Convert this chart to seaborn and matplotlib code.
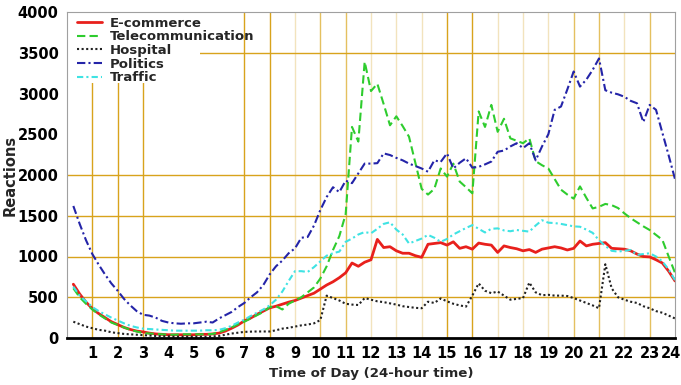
import numpy as np
import pandas as pd
import matplotlib
matplotlib.use("Agg")
import matplotlib.pyplot as plt
import matplotlib.transforms as mtransforms
from matplotlib.patches import Rectangle
import seaborn as sns

# Reactions sampled every 15 minutes over the day
hours = np.arange(1, 97) * 0.25

ecommerce = [
    660, 540, 440, 360, 300, 250, 200, 165,
    130, 105, 85, 75, 60, 50, 45, 40,
    40, 40, 40, 40, 45, 45, 50, 60,
    85, 120, 160, 210, 245, 290, 330, 370,
    390, 415, 440, 460, 490, 520, 550, 600,
    650, 690, 740, 800, 920, 880, 930, 960,
    1210, 1110, 1120, 1070, 1040, 1040, 1010, 990,
    1150, 1160, 1170, 1140, 1180, 1100, 1120, 1090,
    1165, 1150, 1140, 1050, 1130, 1110, 1095, 1070,
    1085, 1050, 1090, 1105, 1120, 1105, 1080, 1100,
    1190, 1130, 1150, 1160, 1170, 1100, 1095, 1090,
    1070, 1030, 1000, 995, 960, 920, 820, 700,
]

telecommunication = [
    610, 500, 420, 350, 290, 240, 190, 160,
    130, 100, 80, 60, 55, 50, 45, 40,
    40, 45, 45, 45, 45, 45, 50, 70,
    100, 130, 170, 200, 240, 280, 320, 380,
    390, 350, 420, 460, 500, 560, 620, 730,
    880, 1080, 1250, 1520, 2590, 2410, 3390, 3030,
    3120, 2870, 2610, 2720, 2600, 2470, 2150, 1830,
    1760, 1830, 2080, 1980, 2140, 1920, 1850, 1775,
    2780, 2590, 2860, 2530, 2690, 2450, 2420, 2390,
    2450, 2170, 2120, 2080, 1950, 1820, 1760, 1710,
    1860, 1720, 1590, 1610, 1645, 1630, 1595, 1530,
    1470, 1420, 1370, 1325, 1265, 1205, 1000, 800,
]

hospital = [
    200, 170, 140, 120, 100, 90, 70, 60,
    50, 45, 40, 35, 30, 25, 20, 20,
    15, 15, 15, 15, 15, 15, 20, 25,
    40, 55, 65, 75, 78, 80, 80, 80,
    95, 115, 125, 140, 155, 165, 180, 220,
    520, 490, 460, 420, 410, 405, 490, 470,
    450, 440, 425, 410, 390, 380, 370, 365,
    445, 430, 485, 450, 420, 400, 385, 520,
    670, 580, 550, 570, 520, 470, 480, 490,
    680, 560, 525, 530, 520, 520, 515, 490,
    460, 430, 400, 365, 905, 610, 500, 470,
    445, 430, 390, 365, 330, 310, 275, 240,
]

politics = [
    1620, 1400, 1200, 1030, 900, 780, 670, 580,
    480, 400, 330, 285, 275, 250, 210, 190,
    180, 175, 180, 180, 190, 200, 190, 240,
    280, 320, 380, 430, 500, 560, 650, 780,
    880, 950, 1040, 1100, 1230, 1240, 1380, 1570,
    1730, 1850, 1790, 1930, 1900, 2020, 2140, 2140,
    2145, 2265, 2245, 2210, 2180, 2140, 2110, 2080,
    2040, 2180, 2160, 2265, 2080, 2150, 2205, 2090,
    2100, 2130, 2165, 2285, 2300, 2350, 2390, 2330,
    2390, 2180, 2350, 2500, 2800, 2840, 3050, 3270,
    3085, 3170, 3290, 3430, 3040, 3010, 2990, 2960,
    2910, 2880, 2650, 2860, 2800, 2520, 2240, 1950,
]

traffic = [
    630, 520, 450, 380, 330, 290, 250, 215,
    180, 150, 130, 115, 110, 105, 100, 95,
    90, 90, 90, 90, 90, 95, 95, 100,
    120, 150, 190, 225, 270, 310, 350, 400,
    470, 570, 700, 820, 820, 810, 870, 940,
    1010, 1040, 1060, 1180, 1220, 1270, 1300, 1285,
    1340, 1400, 1420, 1330, 1270, 1160, 1190, 1220,
    1265, 1230, 1180, 1215, 1270, 1310, 1350, 1385,
    1340, 1295, 1340, 1345, 1320, 1310, 1325, 1315,
    1305, 1380, 1445, 1415, 1410, 1400, 1385, 1370,
    1365, 1330, 1290, 1200, 1130, 1070, 1060, 1070,
    1080, 1020, 1030, 1040, 1000, 940, 840, 710,
]

series_names = ["E-commerce", "Telecommunication", "Hospital", "Politics", "Traffic"]
x_ticks = list(range(1, 25))
y_ticks = list(range(0, 4001, 500))

df = pd.DataFrame({
    "hour": hours,
    "E-commerce": ecommerce,
    "Telecommunication": telecommunication,
    "Hospital": hospital,
    "Politics": politics,
    "Traffic": traffic,
})

sns.set_theme(style="white")
plt.rcParams["font.family"] = ["DejaVu Sans"]
plt.rcParams["font.weight"] = "bold"

fig = plt.figure(figsize=(6.81, 3.85), dpi=100)
ax = fig.add_axes([67 / 681, 47 / 385, 608 / 681, 326 / 385])

# background grid in gold tones of varying strength
gold_strong = "#d8a31c"
gold_medium = "#e4c060"
gold_pale = "#f2e3bd"
strong = {1, 2, 3, 7, 8, 15, 16}
medium = {10, 11, 20, 21, 23}
pale = {9, 12, 13, 14, 17, 18, 19, 22}
for h in range(1, 24):
    if h in strong:
        ax.axvline(h, color=gold_strong, lw=1.0, zorder=0)
    elif h in medium:
        ax.axvline(h, color=gold_medium, lw=1.0, zorder=0)
    elif h in pale:
        ax.axvline(h, color=gold_pale, lw=1.0, zorder=0)
for yv in (500, 1000, 1500, 2000, 3500):
    ax.axhline(yv, color=gold_strong, lw=1.0, zorder=0)

# white key area behind the legend entries
ax.add_patch(Rectangle((0, 0.782), 0.219, 0.218, transform=ax.transAxes,
                       facecolor="white", edgecolor="none", zorder=0.5))

styles = {
    "E-commerce": dict(color="#e8201c", lw=2.0, dashes=None),
    "Telecommunication": dict(color="#2ecc2e", lw=1.5, dashes=(4, 2)),
    "Hospital": dict(color="#222222", lw=1.5, dashes=(1, 1.2)),
    "Politics": dict(color="#2424a8", lw=1.5, dashes=(4, 1.5, 1, 1.5)),
    "Traffic": dict(color="#3fe3e3", lw=1.5, dashes=(3, 1.5, 1, 1.5)),
}

for name in series_names:
    st = styles[name]
    sns.lineplot(data=df, x="hour", y=name, ax=ax, label=name,
                 color=st["color"], lw=st["lw"])
    ln = ax.get_lines()[-1]
    ln.set_zorder(2)
    if st["dashes"] is not None:
        ln.set_dashes(st["dashes"])

ax.set_xlim(0, 24)
ax.set_ylim(0, 4000)
ax.set_xticks(x_ticks)
ax.set_yticks(y_ticks)
ax.set_xticklabels([str(t) for t in x_ticks], fontsize=10.5, fontweight="bold")
ax.set_yticklabels([str(t) for t in y_ticks], fontsize=10.5, fontweight="bold")
ax.tick_params(axis="both", length=0, pad=6, colors="black")

# keep the last hour label inside the canvas
last = ax.get_xticklabels()[-1]
last.set_transform(last.get_transform() +
                   mtransforms.ScaledTranslation(-0.04, 0, fig.dpi_scale_trans))

for side in ("left", "top", "right"):
    ax.spines[side].set_color("#a0a0a0")
    ax.spines[side].set_linewidth(0.8)
ax.spines["bottom"].set_color("black")
ax.spines["bottom"].set_linewidth(2.0)

ax.set_xlabel("Time of Day (24-hour time)", fontsize=9.6, fontweight="bold")
ax.set_ylabel("Reactions", fontsize=10.5, fontweight="bold")
ax.xaxis.set_label_coords(0.5, -0.09)
ax.yaxis.set_label_coords(-0.081, 0.5)

handles, labels = ax.get_legend_handles_labels()
leg = ax.legend(handles, labels, loc="upper left", bbox_to_anchor=(0.0164, 0.986),
                frameon=False, prop={"weight": "bold", "size": 9.5},
                handlelength=1.9, handletextpad=0.6, labelspacing=0.05,
                borderpad=0.0, borderaxespad=0.0)
leg.set_zorder(5)

fig.savefig("out.png", dpi=100)
